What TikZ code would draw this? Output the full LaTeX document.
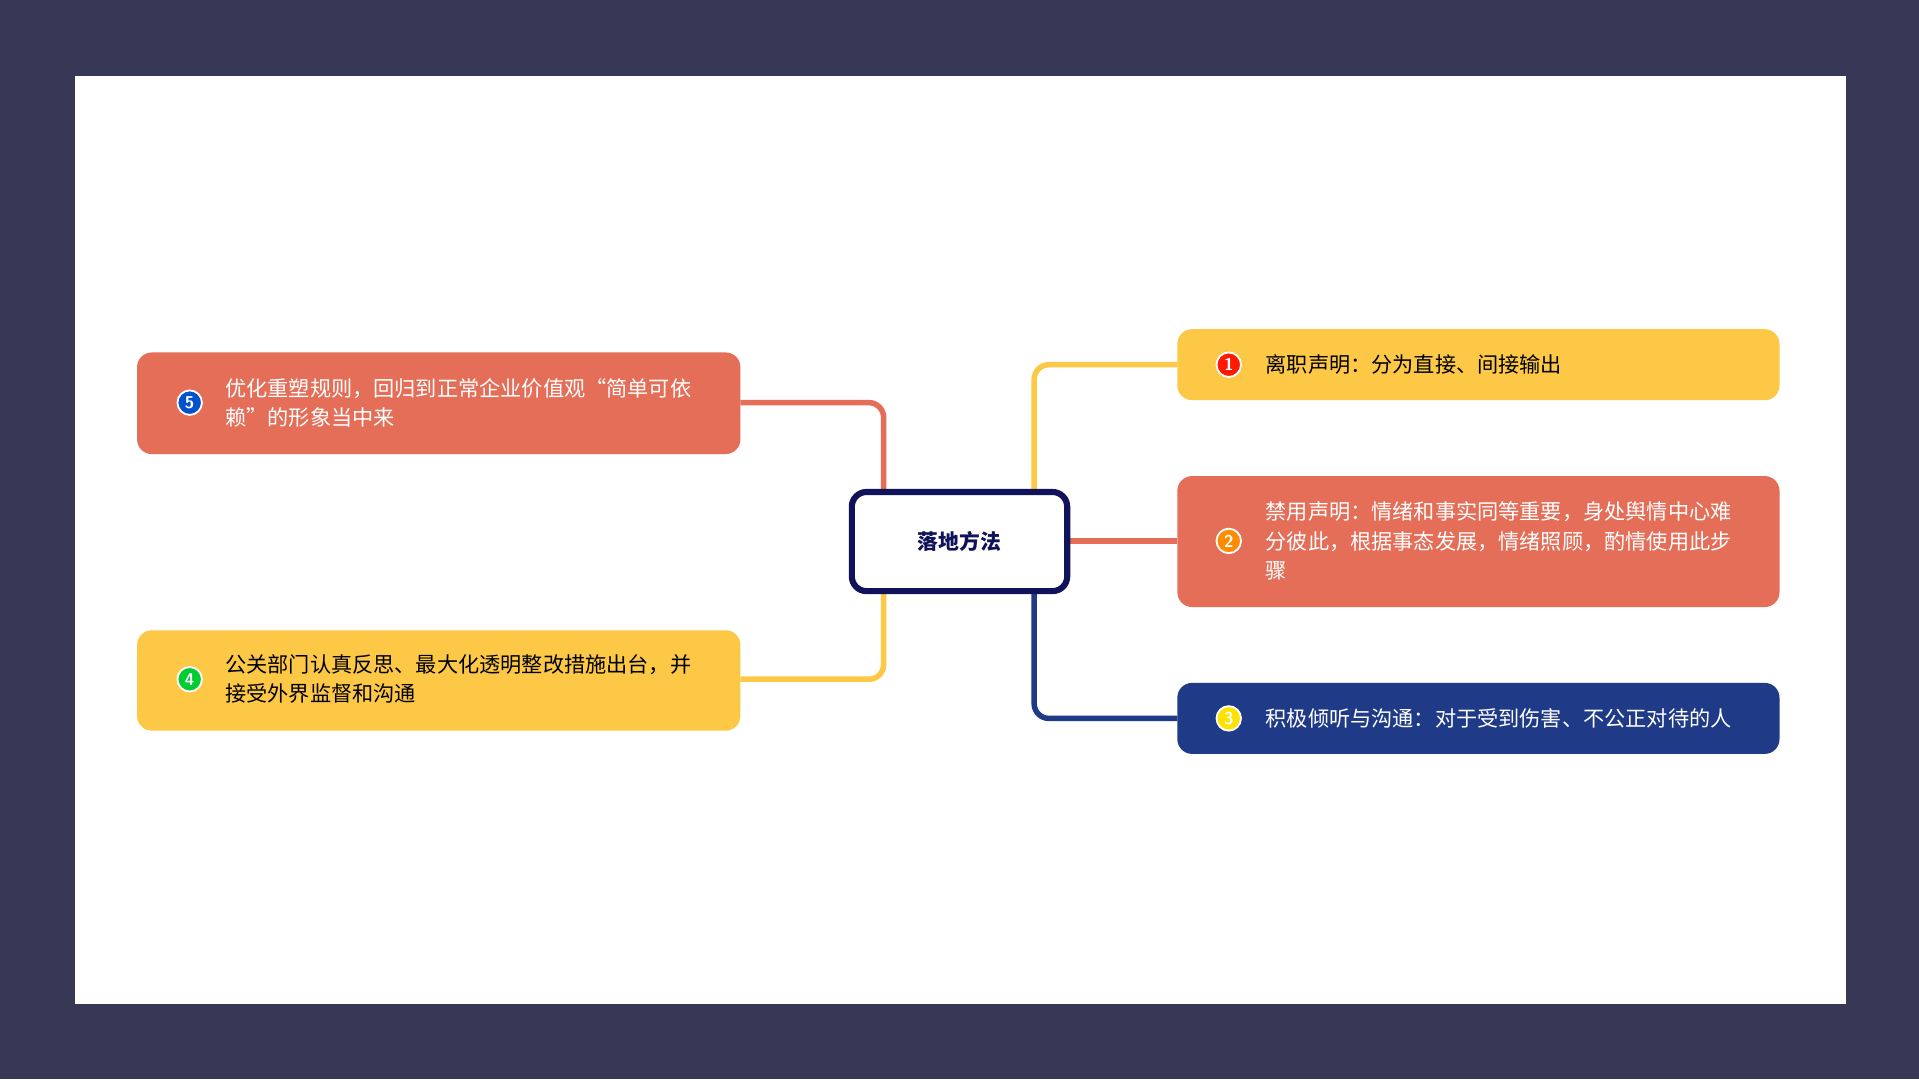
\documentclass[tikz,border=0pt]{standalone}
\usepackage{fontspec}
\newfontfamily\cjk{Noto Sans CJK SC}
\usetikzlibrary{positioning}
\definecolor{bgdark}{HTML}{363856}
\definecolor{topicnavy}{HTML}{10125A}
\definecolor{boxyellow}{HTML}{FDC846}
\definecolor{boxred}{HTML}{E46E58}
\definecolor{boxblue}{HTML}{1F3A87}
\tikzset{
  branch/.style={align=left,inner sep=0pt,font=\cjk\fontsize{17.3}{24}\selectfont},
  numdot/.style={circle,draw=white,line width=1.5pt,minimum size=20pt,inner sep=0pt,text=white,
    font=\sffamily\bfseries\fontsize{14}{14}\selectfont},
  link/.style={line width=4.5pt,rounded corners=12pt}
}
\begin{document}
\begin{tikzpicture}[x=1pt,y=-1pt]
\fill[bgdark] (0,0) rectangle (1568,882);
\fill[white] (61,62) rectangle (1508,820);
% links first, boxes over them
\draw[link,boxyellow] (845,440) -- (845,298) -- (962,298);
\draw[link,boxred] (850,442) -- (962,442);
\draw[link,boxblue] (845,440) -- (845,587) -- (962,587);
\draw[link,boxred] (605,329) -- (722,329) -- (722,440);
\draw[link,boxyellow] (605,555) -- (722,555) -- (722,440);
% centre
\node[draw=topicnavy,line width=5pt,rounded corners=12pt,minimum width=176pt,minimum height=81pt,
  fill=white,text=topicnavy,font=\cjk\bfseries\fontsize{17}{20}\selectfont] (topic) at (784,442.5) {落地方法};
% right side
\fill[boxyellow,rounded corners=12pt] (962,269) rectangle (1454,327);
\node[branch,anchor=west] (one) at (1034,298) {离职声明：分为直接、间接输出};
\node[numdot,fill=red!80!orange] (n1) at (1004,298) {1};
\fill[boxred,rounded corners=12pt] (962,389) rectangle (1454,496);
\node[branch,anchor=west,text=white] (two) at (1034,442) {禁用声明：情绪和事实同等重要，身处舆情中心难\\分彼此，根据事态发展，情绪照顾，酌情使用此步\\骤};
\node[numdot,fill=orange!90!yellow] (n2) at (1004,442) {2};
\fill[boxblue,rounded corners=12pt] (962,558) rectangle (1454,616);
\node[branch,anchor=west,text=white] (three) at (1034,587) {积极倾听与沟通：对于受到伤害、不公正对待的人};
\node[numdot,fill=yellow!85!orange] (n3) at (1004,587) {3};
% left side
\fill[boxred,rounded corners=12pt] (112,288) rectangle (605,371);
\node[branch,anchor=west,text=white] (five) at (184,329) {优化重塑规则，回归到正常企业价值观“简单可依\\赖”的形象当中来};
\node[numdot,fill=blue!60!cyan!80!black] (n5) at (155,329) {5};
\fill[boxyellow,rounded corners=12pt] (112,515) rectangle (605,597);
\node[branch,anchor=west] (four) at (184,555) {公关部门认真反思、最大化透明整改措施出台，并\\接受外界监督和沟通};
\node[numdot,fill=green!60!teal] (n4) at (155,555) {4};
\end{tikzpicture}
\end{document}
